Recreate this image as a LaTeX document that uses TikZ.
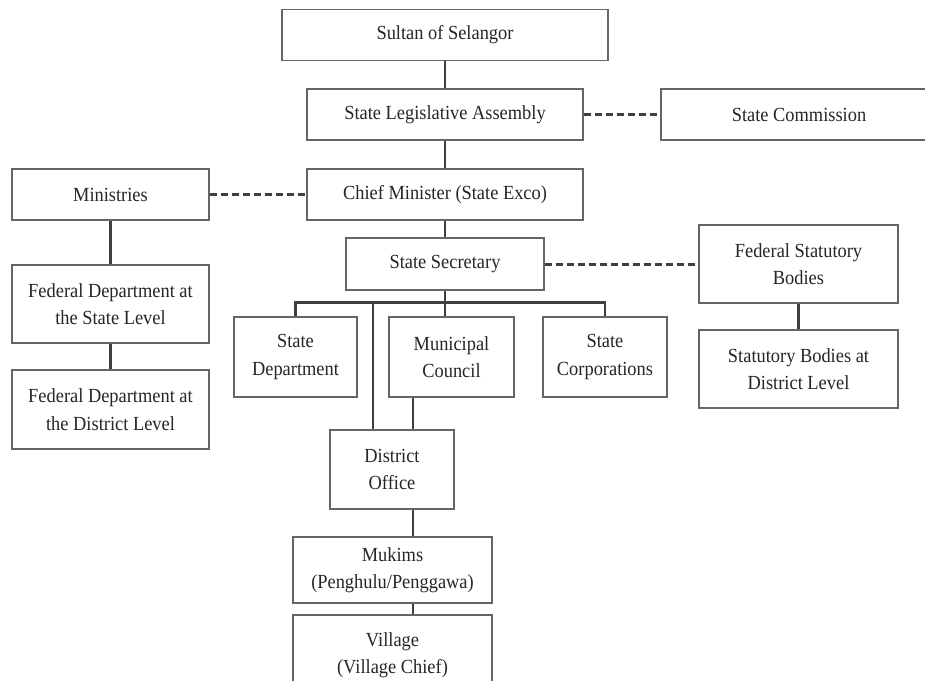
\documentclass[tikz,border=0pt]{standalone}
\usepackage{fontspec}
\setmainfont[FakeStretch=0.92]{Liberation Serif}
\usepackage{tikz}
\usetikzlibrary{calc}
\tikzset{
  box/.style={draw=black!60, line width=1.3pt, fill=white, align=center, inner sep=2pt,
    text=black!85, font=\fontsize{20}{27.5}\selectfont},
  link/.style={draw=black!75, line width=2.6pt},
  dlink/.style={link, line width=3pt, dash pattern=on 7.5pt off 3.5pt}
}

\begin{document}
\begin{tikzpicture}[x=1pt, y=-1pt]
    % Frame
    \useasboundingbox (0,0) rectangle (925,680);

    % Top of the state
    \node[box, minimum width=326, minimum height=50.5] (sultan) at (445,35) {Sultan of Selangor};
    \node[box, minimum width=276, minimum height=51] (assembly) at (445,114.5) {State Legislative Assembly};
    \node[box, minimum width=276, minimum height=51] (commission) at (799,114.5) {State Commission};
    \node[box, minimum width=276, minimum height=51] (chief) at (445,194.5) {Chief Minister (State Exco)};
    \node[box, minimum width=198, minimum height=52] (secretary) at (445,264) {State Secretary};

    % Federal side
    \node[box, minimum width=197, minimum height=51] (ministries) at (110.5,194.5) {Ministries};
    \node[box, minimum width=197, minimum height=78] (fedstate) at (110.5,304) {Federal Department at\\the State Level};
    \node[box, minimum width=197, minimum height=79] (feddistrict) at (110.5,409.5) {Federal Department at\\the District Level};

    % Statutory bodies
    \node[box, minimum width=199, minimum height=78] (fedbodies) at (798.5,264) {Federal Statutory\\Bodies};
    \node[box, minimum width=199, minimum height=78] (distbodies) at (798.5,369) {Statutory Bodies at\\District Level};

    % Under the State Secretary
    \node[box, minimum width=123, minimum height=80] (statedept) at (295.5,357) {State\\Department};
    \node[box, minimum width=125, minimum height=80] (municipal) at (451.5,357) {Municipal\\Council};
    \node[box, minimum width=124, minimum height=80] (corporations) at (605,357) {State\\Corporations};

    % District and below
    \node[box, minimum width=124, minimum height=79] (district) at (392,469.5) {District\\Office};
    \node[box, minimum width=199, minimum height=66] (mukims) at (392.5,570) {Mukims\\(Penghulu/Penggawa)};
    \node[box, minimum width=199, minimum height=80] (village) at (392.5,655) {Village\\(Village Chief)};

    % Helper points
    \coordinate (dstem) at (373,303);
    \coordinate (spine) at (413,0);

    % Solid lines
    \draw[link] (sultan.south) -- (assembly.north);
    \draw[link] (assembly.south) -- (chief.north);
    \draw[link] (chief.south) -- (secretary.north);
    \draw[link] (ministries.south) -- (fedstate.north);
    \draw[link] (fedstate.south) -- (feddistrict.north);
    \draw[link] (fedbodies.south) -- (distbodies.north);
    \draw[link] (statedept.north) -- ++(0,-14) -| (corporations.north);
    \draw[link] (secretary.south) -- (secretary.south |- municipal.north);
    \draw[link] (dstem) -- (dstem |- district.north);
    \draw[link] (spine |- municipal.south) -- (spine |- district.north);
    \draw[link] (spine |- district.south) -- (spine |- mukims.north);
    \draw[link] (spine |- mukims.south) -- (spine |- village.north);

    % Dashed lines
    \draw[dlink] (assembly.east) -- (commission.west);
    \draw[dlink] (ministries.east) -- (chief.west);
    \draw[dlink] (secretary.east) -- (fedbodies.west |- secretary.east);
\end{tikzpicture}
\end{document}
